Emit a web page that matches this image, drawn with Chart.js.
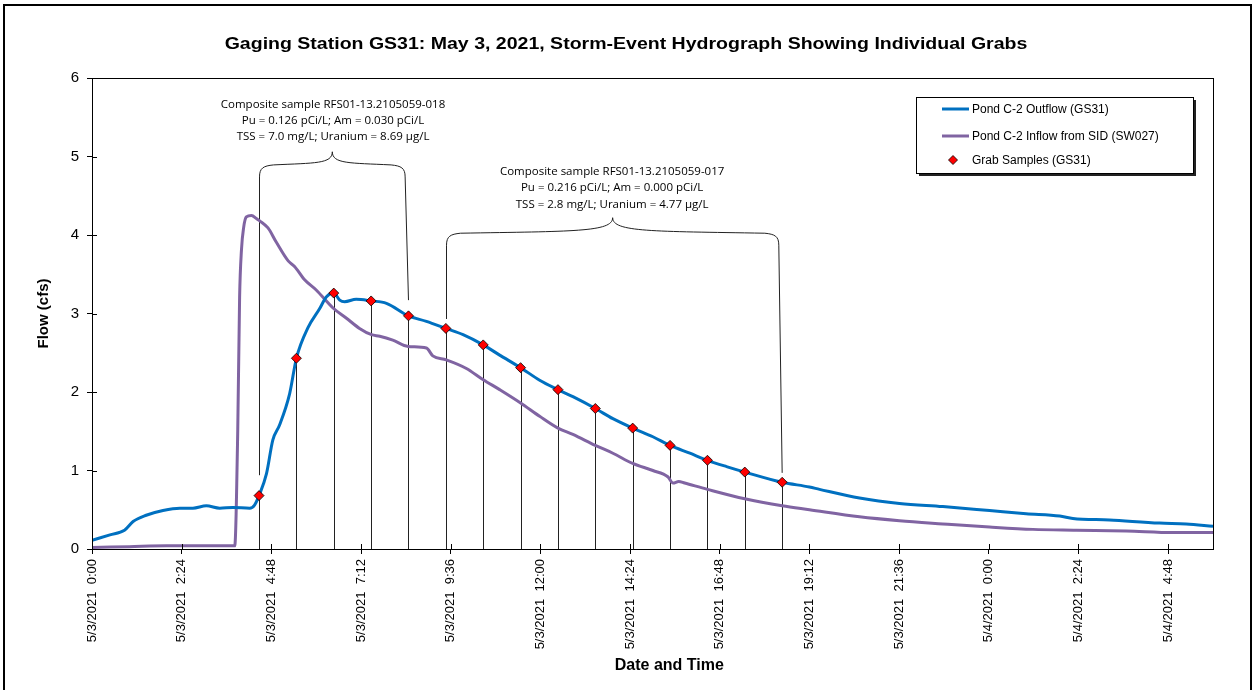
<!DOCTYPE html>
<html>
<head>
<meta charset="utf-8">
<script src="https://cdn.jsdelivr.net/npm/chart.js@4.4.1/dist/chart.umd.min.js"></script>
<style>
  html, body { margin: 0; padding: 0; background: #fff; }
</style>
</head>
<body>
<canvas id="myChart" width="1255" height="690"></canvas>
<script>
// Horas desde 5/3/2021 0:00
const outflowHours = [0, 0.48, 0.87, 1.1, 1.45, 1.9, 2.35, 2.7, 3.06, 3.42, 3.77, 4.22, 4.35, 4.47, 4.67, 4.84, 5.02, 5.29, 5.47, 5.78, 6.09, 6.27, 6.47, 6.63, 6.76, 7.07, 7.47, 7.88, 8.47, 8.95, 9.47, 9.93, 10.47, 10.91, 11.47, 11.98, 12.47, 12.87, 13.47, 13.94, 14.47, 15.01, 15.47, 16.0, 16.47, 16.98, 17.47, 18.47, 19.2, 19.47, 20.54, 21.61, 22.77, 24.02, 25.0, 25.9, 26.25, 27.23, 28.57, 29.28, 30]
const outflowCfs = [0.11, 0.18, 0.24, 0.35, 0.43, 0.49, 0.52, 0.52, 0.55, 0.52, 0.53, 0.52, 0.56, 0.68, 0.96, 1.39, 1.58, 1.98, 2.43, 2.82, 3.06, 3.21, 3.26, 3.17, 3.15, 3.18, 3.16, 3.13, 2.97, 2.90, 2.81, 2.73, 2.60, 2.47, 2.31, 2.15, 2.03, 1.94, 1.79, 1.66, 1.54, 1.43, 1.32, 1.22, 1.13, 1.05, 0.98, 0.85, 0.79, 0.76, 0.65, 0.58, 0.54, 0.49, 0.45, 0.42, 0.39, 0.37, 0.33, 0.32, 0.29]

const inflowHours = [0, 1.0, 2.0, 3.0, 3.82, 3.9, 3.95, 4.0, 4.06, 4.13, 4.27, 4.4, 4.49, 4.71, 4.93, 5.25, 5.42, 5.69, 6.0, 6.45, 6.81, 7.16, 7.48, 7.7, 8.05, 8.46, 8.95, 9.12, 9.48, 10.02, 10.46, 10.91, 11.47, 11.98, 12.47, 12.87, 13.47, 13.94, 14.47, 15.01, 15.41, 15.55, 15.7, 15.86, 16.47, 17.47, 18.47, 19.2, 20.54, 21.61, 22.77, 24.02, 25.18, 26.34, 27.68, 28.93, 30]
const inflowCfs = [0.02, 0.03, 0.04, 0.04, 0.04, 1.5, 3.2, 3.81, 4.1, 4.23, 4.25, 4.21, 4.18, 4.09, 3.91, 3.67, 3.60, 3.43, 3.30, 3.07, 2.94, 2.81, 2.73, 2.71, 2.66, 2.58, 2.56, 2.46, 2.41, 2.30, 2.16, 2.03, 1.86, 1.69, 1.54, 1.46, 1.32, 1.22, 1.09, 1.00, 0.92, 0.84, 0.86, 0.84, 0.76, 0.64, 0.55, 0.50, 0.41, 0.36, 0.32, 0.28, 0.25, 0.24, 0.23, 0.21, 0.21]

// Muestras puntuales (GS31)
const grabHours = [4.47, 5.47, 6.47, 7.47, 8.47, 9.47, 10.47, 11.47, 12.47, 13.47, 14.47, 15.47, 16.47, 17.47, 18.47]
const grabCfs = [0.68, 2.43, 3.26, 3.16, 2.97, 2.81, 2.60, 2.31, 2.03, 1.79, 1.54, 1.32, 1.13, 0.98, 0.85]

// Eje X
const xTickHours = [0, 2.4, 4.8, 7.2, 9.6, 12, 14.4, 16.8, 19.2, 21.6, 24, 26.4, 28.8]
const xTickLabels = ['5/3/2021  0:00', '5/3/2021  2:24', '5/3/2021  4:48', '5/3/2021  7:12', '5/3/2021  9:36', '5/3/2021  12:00', '5/3/2021  14:24', '5/3/2021  16:48', '5/3/2021  19:12', '5/3/2021  21:36', '5/4/2021  0:00', '5/4/2021  2:24', '5/4/2021  4:48']

// Muestras compuestas (llaves y textos)
const compositeText = [
  ['Composite sample RFS01-13.2105059-018', 'Pu = 0.126 pCi/L; Am = 0.030 pCi/L', 'TSS = 7.0 mg/L; Uranium = 8.69 \u00b5g/L'],
  ['Composite sample RFS01-13.2105059-017', 'Pu = 0.216 pCi/L; Am = 0.000 pCi/L', 'TSS = 2.8 mg/L; Uranium = 4.77 \u00b5g/L'],
]
const compositeTextHours = [6.45, 13.92]
const compositeTextCfs = [[5.66, 5.45, 5.25], [4.80, 4.60, 4.39]]
const braceStartHours = [4.47, 9.47]
const braceEndHours = [8.38, 18.38]
const braceLegEndHours = [8.47, 18.47]
const braceTipCfs = [4.74, 3.87]
const braceArmCfs = [4.88, 4.01]
const bracePeakCfs = [5.06, 4.22]
const legLeftBottomCfs = [0.94, 2.93]
const legRightBottomCfs = [3.17, 0.97]

const toPoints = (xs, ys) => xs.map((x, i) => ({ x: x, y: ys[i] }))

const BLUE = '#0070C0'
const PURPLE = '#8064A2'
const ARIAL = "'Liberation Sans', Arial, sans-serif"

// Fondo, marco exterior, título
const framePlugin = {
  id: 'frame',
  beforeDraw(chart) {
    const ctx = chart.ctx
    ctx.save()
    ctx.fillStyle = '#fff'
    ctx.fillRect(0, 0, chart.width, chart.height)
    ctx.strokeStyle = '#000'
    ctx.lineWidth = 2
    ctx.strokeRect(4, 5, chart.width - 8, chart.height - 4)
    ctx.restore()
  },
  afterDraw(chart) {
    const ctx = chart.ctx
    const ca = chart.chartArea
    ctx.save()
    // título
    ctx.fillStyle = '#000'
    ctx.font = 'bold 16px ' + ARIAL
    ctx.textAlign = 'center'
    ctx.textBaseline = 'middle'
    ctx.translate(626, 45)
    ctx.scale(1.22, 1)
    ctx.fillText('Gaging Station GS31: May 3, 2021, Storm-Event Hydrograph Showing Individual Grabs', 0, 0)
    ctx.restore()

    // título del eje X
    ctx.save()
    ctx.fillStyle = '#000'
    ctx.font = 'bold 16px ' + ARIAL
    ctx.textAlign = 'center'
    ctx.textBaseline = 'middle'
    ctx.fillText('Date and Time', ca.left + ca.width * 0.515, 666)
    ctx.restore()

    // marco del área de trazado
    ctx.save()
    ctx.strokeStyle = '#000'
    ctx.lineWidth = 1
    ctx.strokeRect(Math.round(ca.left) + 0.5, Math.round(ca.top) + 0.5, Math.round(ca.width), Math.round(ca.height))
    // marcas hacia dentro
    const xs = chart.scales.x, ys = chart.scales.y
    ctx.beginPath()
    xs.ticks.forEach(t => {
      const px = Math.round(xs.getPixelForValue(t.value)) + 0.5
      ctx.moveTo(px, ca.bottom)
      ctx.lineTo(px, ca.bottom - 5)
    })
    ys.ticks.forEach(t => {
      const py = Math.round(ys.getPixelForValue(t.value)) + 0.5
      ctx.moveTo(ca.left, py)
      ctx.lineTo(ca.left + 5, py)
    })
    ctx.stroke()
    ctx.restore()

    // leyenda
    const bx = Math.round(ca.right) - 297, by = Math.round(ca.top) + 19, bw = 277, bh = 76
    ctx.save()
    ctx.fillStyle = '#222'
    ctx.fillRect(bx + 3, by + 3, bw, bh)
    ctx.fillStyle = '#fff'
    ctx.fillRect(bx, by, bw, bh)
    ctx.strokeStyle = '#000'
    ctx.lineWidth = 1
    ctx.strokeRect(bx + 0.5, by + 0.5, bw, bh)
    const items = chart.data.datasets
    const rowsY = [by + 12, by + 39, by + 63]
    ctx.font = '12px ' + ARIAL
    ctx.textBaseline = 'middle'
    ctx.textAlign = 'left'
    items.forEach((ds, i) => {
      const yy = rowsY[i]
      if (ds.showLine === false) {
        ctx.beginPath()
        const cx = bx + 37
        ctx.moveTo(cx, yy - 4.5)
        ctx.lineTo(cx + 4.5, yy)
        ctx.lineTo(cx, yy + 4.5)
        ctx.lineTo(cx - 4.5, yy)
        ctx.closePath()
        ctx.fillStyle = ds.pointBackgroundColor
        ctx.fill()
        ctx.strokeStyle = ds.pointBorderColor
        ctx.lineWidth = 0.8
        ctx.stroke()
      } else {
        ctx.beginPath()
        ctx.moveTo(bx + 26, yy)
        ctx.lineTo(bx + 53, yy)
        ctx.strokeStyle = ds.borderColor
        ctx.lineWidth = 3
        ctx.stroke()
      }
      ctx.fillStyle = '#000'
      ctx.fillText(ds.label, bx + 56, yy + 1)
    })
    ctx.restore()
  },
}

// Líneas verticales de muestras, llaves y textos
const annotationPlugin = {
  id: 'grabs',
  beforeDatasetsDraw(chart) {
    const ctx = chart.ctx
    const xs = chart.scales.x, ys = chart.scales.y
    ctx.save()
    ctx.strokeStyle = '#222'
    ctx.lineWidth = 1
    ctx.beginPath()
    grabHours.forEach((h, i) => {
      const px = Math.round(xs.getPixelForValue(h)) + 0.5
      ctx.moveTo(px, ys.getPixelForValue(grabCfs[i]))
      ctx.lineTo(px, ys.getPixelForValue(0))
    })
    ctx.stroke()

    braceStartHours.forEach((h0, i) => {
      const x1 = Math.round(xs.getPixelForValue(h0)) + 0.5
      const x2 = xs.getPixelForValue(braceEndHours[i])
      const x2b = xs.getPixelForValue(braceLegEndHours[i])
      const yTip = ys.getPixelForValue(braceTipCfs[i])
      const yArm = ys.getPixelForValue(braceArmCfs[i])
      const yPeak = ys.getPixelForValue(bracePeakCfs[i])
      const xm = (x1 + x2) / 2
      const w = x2 - x1
      // patas
      ctx.beginPath()
      ctx.moveTo(x1, yTip)
      ctx.lineTo(x1, ys.getPixelForValue(legLeftBottomCfs[i]))
      ctx.moveTo(x2, yTip)
      ctx.lineTo(x2b, ys.getPixelForValue(legRightBottomCfs[i]))
      ctx.stroke()
      // llave
      ctx.beginPath()
      ctx.moveTo(x1, yTip)
      ctx.bezierCurveTo(x1, yArm + 2, x1 + 4, yArm, x1 + 14, yArm - 1)
      ctx.bezierCurveTo(xm - w * 0.12, yArm - 3, xm, yArm - 2, xm, yPeak)
      ctx.bezierCurveTo(xm, yArm - 2, xm + w * 0.12, yArm - 3, x2 - 14, yArm - 1)
      ctx.bezierCurveTo(x2 - 4, yArm, x2, yArm + 2, x2, yTip)
      ctx.stroke()
      // texto
      ctx.fillStyle = '#000'
      ctx.font = "11.5px 'Open Sans', sans-serif"
      ctx.textAlign = 'center'
      ctx.textBaseline = 'middle'
      const tx = xs.getPixelForValue(compositeTextHours[i])
      compositeText[i].forEach((line, k) => {
        ctx.fillText(line, tx, ys.getPixelForValue(compositeTextCfs[i][k]))
      })
    })
    ctx.restore()
  },
}

const ctx = document.getElementById('myChart').getContext('2d')

const myChart = new Chart(ctx, {
  type: 'line',
  data: {
    datasets: [
      {
        label: 'Pond C-2 Outflow (GS31)',
        data: toPoints(outflowHours, outflowCfs),
        borderColor: BLUE,
        borderWidth: 3,
        pointRadius: 0,
        cubicInterpolationMode: 'monotone',
        order: 2,
      },
      {
        label: 'Pond C-2 Inflow from SID (SW027)',
        data: toPoints(inflowHours, inflowCfs),
        borderColor: PURPLE,
        borderWidth: 3,
        pointRadius: 0,
        cubicInterpolationMode: 'monotone',
        order: 3,
      },
      {
        label: 'Grab Samples (GS31)',
        data: toPoints(grabHours, grabCfs),
        showLine: false,
        pointStyle: 'rectRot',
        pointRadius: 5,
        pointBackgroundColor: '#FF0000',
        pointBorderColor: '#000',
        pointBorderWidth: 0.8,
        order: 1,
      },
    ],
  },
  options: {
    responsive: false,
    animation: false,
    devicePixelRatio: 1,
    layout: { padding: { top: 78, left: 8, right: 42, bottom: 8 } },
    plugins: {
      legend: { display: false },
      title: { display: false },
      tooltip: { enabled: false },
    },
    scales: {
      x: {
        type: 'linear',
        min: 0,
        max: 30,
        afterBuildTicks: scale => {
          scale.ticks = xTickHours.map(v => ({ value: v }))
        },
        afterFit: scale => { scale.height = 133 },
        ticks: {
          autoSkip: false,
          minRotation: 90,
          maxRotation: 90,
          padding: 5,
          color: '#000',
          font: { family: ARIAL, size: 13 },
          callback: (value, index) => xTickLabels[index],
        },
        grid: { drawOnChartArea: false, tickLength: 5, color: '#000' },
        border: { color: '#000', width: 1 },
        title: { display: false },
      },
      y: {
        min: 0,
        max: 6,
        afterFit: scale => { scale.width = 84 },
        ticks: {
          stepSize: 1,
          padding: 8,
          color: '#000',
          font: { family: ARIAL, size: 15 },
        },
        grid: { drawOnChartArea: false, tickLength: 5, color: '#000' },
        border: { color: '#000', width: 1 },
        title: {
          display: true,
          text: 'Flow (cfs)',
          color: '#000',
          font: { family: ARIAL, size: 15, weight: 'bold' },
          padding: { top: 27, bottom: 0 },
        },
      },
    },
  },
  plugins: [framePlugin, annotationPlugin],
})
</script>
</body>
</html>
